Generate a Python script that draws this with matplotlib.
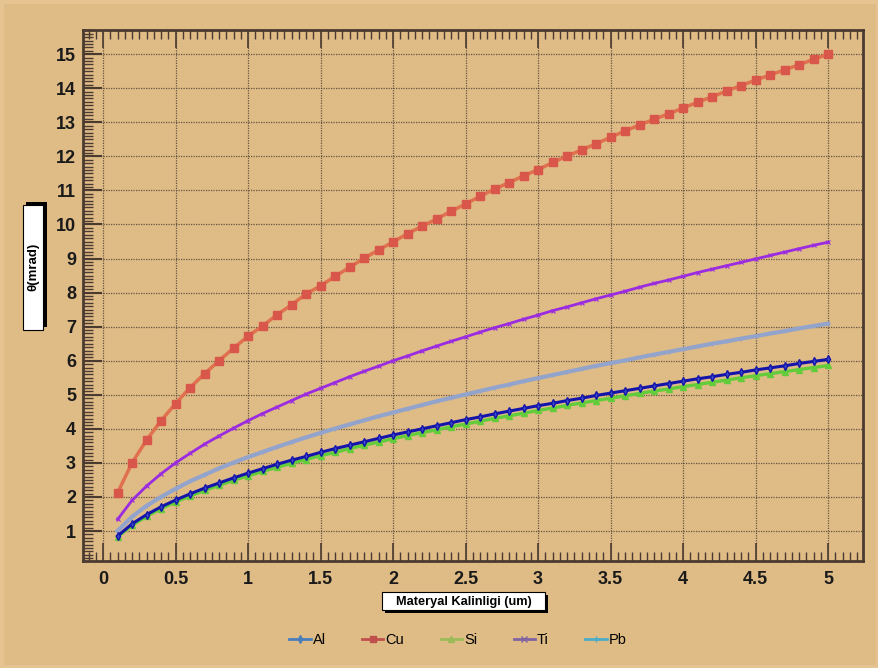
import matplotlib
matplotlib.use("Agg")
import matplotlib.pyplot as plt
from matplotlib.lines import Line2D
from matplotlib.ticker import MultipleLocator
from matplotlib.patches import Rectangle

# Material thickness (um)
thickness = [round(0.1 * i, 1) for i in range(1, 51)]

theta_al = [0.85, 1.21, 1.48, 1.71, 1.91, 2.09, 2.26, 2.41, 2.56, 2.70,
            2.83, 2.96, 3.08, 3.19, 3.31, 3.42, 3.52, 3.62, 3.72, 3.82,
            3.91, 4.00, 4.09, 4.18, 4.27, 4.35, 4.44, 4.52, 4.60, 4.68,
            4.75, 4.83, 4.90, 4.98, 5.05, 5.12, 5.19, 5.26, 5.33, 5.40,
            5.47, 5.53, 5.60, 5.66, 5.73, 5.79, 5.85, 5.92, 5.98, 6.04]

theta_cu = [2.12, 3.00, 3.67, 4.24, 4.74, 5.21, 5.62, 6.00, 6.37, 6.72,
            7.02, 7.35, 7.64, 7.96, 8.20, 8.48, 8.74, 9.01, 9.25, 9.49,
            9.73, 9.95, 10.16, 10.39, 10.60, 10.83, 11.04, 11.23, 11.43, 11.61,
            11.82, 12.01, 12.19, 12.37, 12.56, 12.75, 12.92, 13.09, 13.25, 13.42,
            13.59, 13.75, 13.92, 14.08, 14.24, 14.39, 14.54, 14.69, 14.85, 15.00]

theta_si = [0.83, 1.17, 1.43, 1.66, 1.85, 2.03, 2.19, 2.34, 2.49, 2.62,
            2.75, 2.87, 2.99, 3.10, 3.21, 3.31, 3.42, 3.52, 3.61, 3.71,
            3.80, 3.89, 3.97, 4.06, 4.14, 4.22, 4.31, 4.38, 4.46, 4.54,
            4.61, 4.69, 4.76, 4.83, 4.90, 4.97, 5.04, 5.11, 5.17, 5.24,
            5.30, 5.37, 5.43, 5.50, 5.56, 5.62, 5.68, 5.74, 5.80, 5.86]

theta_ti = [1.34, 1.90, 2.32, 2.68, 3.00, 3.28, 3.55, 3.79, 4.02, 4.24,
            4.45, 4.64, 4.83, 5.02, 5.19, 5.36, 5.53, 5.69, 5.84, 6.00,
            6.14, 6.29, 6.43, 6.57, 6.70, 6.84, 6.97, 7.09, 7.22, 7.34,
            7.47, 7.58, 7.70, 7.82, 7.93, 8.04, 8.16, 8.27, 8.37, 8.48,
            8.59, 8.69, 8.79, 8.89, 8.99, 9.09, 9.19, 9.29, 9.39, 9.48]

theta_pb = [1.00, 1.42, 1.74, 2.00, 2.24, 2.46, 2.65, 2.84, 3.01, 3.17,
            3.32, 3.47, 3.61, 3.75, 3.88, 4.01, 4.13, 4.25, 4.37, 4.48,
            4.59, 4.70, 4.81, 4.91, 5.01, 5.11, 5.21, 5.30, 5.40, 5.49,
            5.58, 5.67, 5.76, 5.85, 5.93, 6.01, 6.10, 6.18, 6.26, 6.34,
            6.42, 6.50, 6.57, 6.65, 6.72, 6.80, 6.87, 6.95, 7.02, 7.09]

x_ticks = [0, 0.5, 1, 1.5, 2, 2.5, 3, 3.5, 4, 4.5, 5]
x_tick_labels = ["0", "0.5", "1", "1.5", "2", "2.5", "3", "3.5", "4", "4.5", "5"]
y_ticks = list(range(1, 16))

W, H = 879, 668
bg = "#DFBB86"
frame = "#4A3A30"


def px_rect(x0, y0, x1, y1, **kw):
    """Rectangle given in pixel coordinates measured from the top-left corner."""
    return Rectangle((x0 / W, 1 - y1 / H), (x1 - x0) / W, (y1 - y0) / H,
                     transform=fig.transFigure, **kw)


fig = plt.figure(figsize=(W / 100, H / 100), dpi=100, facecolor=bg)
# faint lighter outer band
fig.patches.append(Rectangle((0, 0), 1, 1, transform=fig.transFigure,
                             fill=False, edgecolor="#E6C491", linewidth=5, zorder=0))

ax = fig.add_axes([83 / W, 1 - 561 / H, 780 / W, 531 / H])
ax.set_facecolor(bg)
ax.set_xlim(-0.138, 5.24)
ax.set_ylim(0.12, 15.71)

# series
ax.plot(thickness, theta_ti, color="#9A2BE0", lw=2.0, marker="x", ms=3.5,
        mew=0.8, zorder=3)
ax.plot(thickness, theta_pb, color="#93A4CC", lw=3.0, marker="+", ms=3.5,
        mew=0.8, zorder=3)
ax.plot(thickness, theta_si, color="#62CC3A", lw=2.4, marker="^", ms=4.5,
        zorder=3)
ax.plot(thickness, theta_al, color="#1414AA", lw=2.2, marker="d", ms=4,
        mfc="#3A4AC8", zorder=4)
ax.plot(thickness, theta_cu, color="#E0704E", lw=2.5, marker="s", ms=6,
        mfc="#D9574A", mec="#D9574A", zorder=5)

# axes styling
for side in ["left", "bottom", "top", "right"]:
    ax.spines[side].set_color(frame)
    ax.spines[side].set_linewidth(2.0)

ax.set_xticks(x_ticks)
ax.set_xticklabels(x_tick_labels)
ax.set_yticks(y_ticks)
ax.xaxis.set_minor_locator(MultipleLocator(0.05))
ax.yaxis.set_minor_locator(MultipleLocator(0.1))
ax.tick_params(axis="x", which="major", direction="in", length=13, width=1.2,
               color=frame, top=True, bottom=True, pad=7)
ax.tick_params(axis="x", which="minor", direction="in", length=6.5, width=1.0,
               color=frame, top=True, bottom=True)
ax.tick_params(axis="y", which="major", direction="in", length=14, width=1.5,
               color=frame, left=True, right=False, pad=5)
ax.tick_params(axis="y", which="minor", direction="in", length=7, width=1.0,
               color=frame, left=True, right=False)
for lab in ax.get_xticklabels() + ax.get_yticklabels():
    lab.set_fontweight("bold")
    lab.set_fontsize(13)
    lab.set_fontfamily("Liberation Sans")
    lab.set_color("#1A1A1A")

ax.grid(True, which="major", linestyle=(0, (1, 1)), color="#5A4A3A",
        linewidth=0.9, alpha=0.9)

# y-axis title box with its shadow
fig.patches.append(px_rect(26, 202, 47, 327, facecolor="black", zorder=5))
fig.patches.append(px_rect(23, 205, 43, 330, facecolor="white",
                           edgecolor="black", linewidth=0.8, zorder=6))
fig.text(33.5 / W, 1 - 267 / H, "θ(mrad)", rotation=90, ha="center", va="center",
         fontsize=9.5, fontweight="bold", family="Liberation Sans", zorder=7)

# x-axis title box with its shadow
fig.patches.append(px_rect(385, 595, 548, 613, facecolor="black", zorder=5))
fig.patches.append(px_rect(382, 592, 545, 610, facecolor="white",
                           edgecolor="black", linewidth=0.8, zorder=6))
fig.text(463.5 / W, 1 - 601.5 / H, "Materyal Kalinligi (um)", ha="center",
         va="center", fontsize=9.2, fontweight="bold", family="Liberation Sans",
         zorder=7)

# legend
handles = [
    Line2D([], [], color="#4A7EBB", marker="d", ms=4, lw=2),
    Line2D([], [], color="#C0504D", marker="s", ms=5, lw=2),
    Line2D([], [], color="#9BBB59", marker="^", ms=5, lw=2),
    Line2D([], [], color="#8064A2", marker="x", ms=4, lw=2),
    Line2D([], [], color="#4BACC6", marker="+", ms=5, lw=2),
]
labels = ["Al", "Cu", "Si", "Ti", "Pb"]
leg = fig.legend(handles, labels, loc="center", bbox_to_anchor=(458 / W, 1 - 640 / H),
                 ncol=5, frameon=False, handlelength=1.45, handletextpad=0.15,
                 columnspacing=2.5, prop={"family": "Liberation Sans", "size": 10.5})

fig.savefig("out.png", dpi=100, facecolor=bg)
